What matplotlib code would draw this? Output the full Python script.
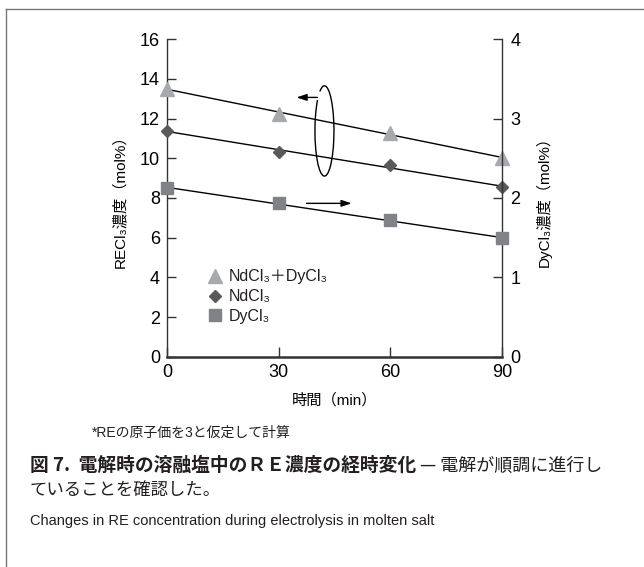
import numpy as np
import matplotlib
matplotlib.use('Agg')
import matplotlib.pyplot as plt
from matplotlib.patches import Arc
from matplotlib.lines import Line2D

plt.rcParams['font.family'] = ['Liberation Sans', 'Noto Sans CJK JP', 'DejaVu Sans']
plt.rcParams['text.color'] = '#231f20'

# data
time_min = [0, 30, 60, 90]
total_re = [13.5, 12.25, 11.3, 10.0]   # NdCl3+DyCl3 (left axis, mol%)
ndcl3 = [11.4, 10.3, 9.65, 8.55]       # NdCl3 (left axis, mol%)
dycl3 = [2.12, 1.94, 1.72, 1.49]       # DyCl3 (right axis, mol%)
left_ticks = [0, 2, 4, 6, 8, 10, 12, 14, 16]
right_ticks = [0, 1, 2, 3, 4]
x_ticks = [0, 30, 60, 90]

fig = plt.figure(figsize=(6.44, 5.67), dpi=100)
ax = fig.add_axes([0.2593, 0.3709, 0.5202, 0.5598])
ax2 = ax.twinx()

# straight fit lines through each series
xs = np.array([time_min[0], time_min[-1]])
for ys, a in [(total_re, ax), (ndcl3, ax), (dycl3, ax2)]:
    k, b = np.polyfit(time_min, ys, 1)
    a.plot(xs, k * xs + b, color='black', lw=1, zorder=2, clip_on=False)

h1, = ax.plot(time_min, total_re, ls='none', marker='^', ms=10.5, color='#a7a9ac',
              label='NdCl₃＋DyCl₃', zorder=3, clip_on=False)
h2, = ax.plot(time_min, ndcl3, ls='none', marker='D', ms=6.5, color='#58595b',
              label='NdCl₃', zorder=3, clip_on=False)
h3, = ax2.plot(time_min, dycl3, ls='none', marker='s', ms=9, color='#808285',
               label='DyCl₃', zorder=3, clip_on=False)

ax.set_xlim(0, 90)
ax.set_ylim(0, 16)
ax2.set_ylim(0, 4)
ax.set_xticks(x_ticks)
ax.set_yticks(left_ticks)
ax2.set_yticks(right_ticks)

ax.spines['top'].set_visible(False)
ax.spines['right'].set_visible(False)
ax2.spines['top'].set_visible(False)
ax2.spines['left'].set_visible(False)
ax2.spines['bottom'].set_visible(False)
ax.spines['left'].set_linewidth(1.0)
ax.spines['bottom'].set_linewidth(1.8)
ax2.spines['right'].set_linewidth(1.0)
for s in ['left', 'bottom']:
    ax.spines[s].set_color('#333333')
ax2.spines['right'].set_color('#333333')

ax.tick_params(axis='y', direction='in', length=6.5, width=1, labelsize=13, pad=5, color='#333333')
ax.tick_params(axis='x', direction='in', length=7, width=1, labelsize=13, pad=5, color='#333333')
ax2.tick_params(axis='y', direction='in', length=6.5, width=1, labelsize=13, pad=6, color='#333333')

ax.set_ylabel('RECl₃濃度（mol%）', fontsize=11)
ax.yaxis.set_label_coords(-0.12, 0.5)
ax2.set_ylabel('DyCl₃濃度（mol%）', fontsize=11)
ax2.yaxis.set_label_coords(1.10, 0.5)
ax.set_xlabel('時間（min）', fontsize=11)
ax.xaxis.set_label_coords(0.5, -0.115)

# loop + arrows pointing to the axes
ax.add_patch(Arc((42.3, 11.38), 5.1, 4.55, theta1=140, theta2=122, color='black', lw=1))
ax.annotate('', xy=(34.8, 13.07), xytext=(40.4, 13.07),
            arrowprops=dict(arrowstyle='-|>,head_length=0.6,head_width=0.2',
                            color='black', lw=1, shrinkA=0, shrinkB=0))
ax.annotate('', xy=(49.6, 7.73), xytext=(37.5, 7.73),
            arrowprops=dict(arrowstyle='-|>,head_length=0.6,head_width=0.2',
                            color='black', lw=1, shrinkA=0, shrinkB=0))

leg = ax.legend(handles=[h1, h2, h3], loc='upper left', bbox_to_anchor=(0.125, 0.275),
                frameon=False, fontsize=11.5, handlelength=0.8, handletextpad=0.45,
                labelspacing=0.3, borderaxespad=0, borderpad=0)

# frame lines of the figure panel
fig.add_artist(Line2D([6 / 644, 1], [1 - 9 / 567, 1 - 9 / 567], transform=fig.transFigure,
                      color='#777777', lw=1))
fig.add_artist(Line2D([6 / 644, 6 / 644], [0, 1 - 9 / 567], transform=fig.transFigure,
                      color='#777777', lw=1))

fig.text(92 / 644, 1 - 433 / 567, '*REの原子価を3と仮定して計算', fontsize=10, va='center')

t1 = fig.text(30 / 644, 1 - 465 / 567, '図 7.  電解時の溶融塩中のＲＥ濃度の経時変化',
              fontsize=13.5, fontweight='bold', va='center', family=['Noto Sans CJK JP'])
ax.annotate(' — 電解が順調に進行し', xy=(1, 0), xycoords=t1, va='bottom', ha='left',
            fontsize=13, family=['Noto Sans CJK JP'], annotation_clip=False)
fig.text(30 / 644, 1 - 490 / 567, 'ていることを確認した。', fontsize=12.5, va='center',
         family=['Noto Sans CJK JP'])
fig.text(30 / 644, 1 - 521 / 567, 'Changes in RE concentration during electrolysis in molten salt',
         fontsize=10.5, va='center', family=['Liberation Sans'])

fig.savefig('out.png', dpi=100)
